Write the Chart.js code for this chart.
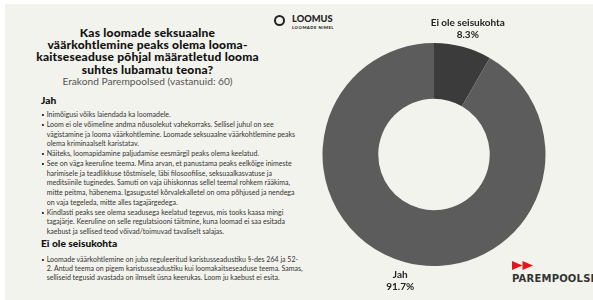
<!DOCTYPE html>
<html>
<head>
<meta charset="utf-8">
<script src="https://cdn.jsdelivr.net/npm/chart.js@4.4.1/dist/chart.umd.min.js"></script>
<style>
    body { margin: 0; width: 593px; height: 300px; background: #fff; overflow: hidden; font-family: Lato, sans-serif; }
    #panel { position: absolute; left: 5px; top: 4px; right: 0; bottom: 0; background: #f3f3ee; }
    #title { position: absolute; left: 0; top: 27px; width: 295px; text-align: center; font-weight: 900; font-size: 12px; letter-spacing: 0.2px; line-height: 12.2px; color: #111; white-space: nowrap; }
    #subtitle { position: absolute; left: 0; top: 75px; width: 295px; text-align: center; font-size: 10.2px; line-height: 12px; color: #555; }
    .head { position: absolute; left: 41px; font-weight: 900; font-size: 10.2px; line-height: 12px; color: #111; }
    .list { position: absolute; left: 41px; margin: 0; padding: 0; list-style: none; font-size: 7.4px; line-height: 9.75px; color: #333; white-space: nowrap; transform: scaleX(0.95); transform-origin: left top; }
    .list li { padding-left: 6px; position: relative; }
    .list li:before { content: ""; position: absolute; left: 0.5px; top: 4px; width: 2px; height: 2px; background: #333; }
    #chart { position: absolute; left: 284px; top: 0; }
    #loomus { position: absolute; left: 274px; top: 14px; }
    #loomus .ring { position: absolute; left: 0; top: 1px; width: 7px; height: 7px; border: 2px solid #222; border-radius: 50%; }
    #loomus .name { position: absolute; left: 18px; top: 0; font-weight: 900; font-size: 9.3px; line-height: 10px; color: #222; }
    #loomus .sub { position: absolute; left: 18px; top: 10.5px; font-weight: 900; font-size: 4.2px; line-height: 5px; color: #222; white-space: nowrap; letter-spacing: 0.5px; }
    #parem { position: absolute; left: 512px; top: 261px; }
    #parem .name { position: absolute; left: 0; top: 12px; font-family: "DejaVu Sans", sans-serif; font-weight: bold; font-size: 10px; letter-spacing: 0.2px; line-height: 12px; color: #333; white-space: nowrap; }
</style>
</head>
<body>
<div id="panel"></div>
<div id="title">Kas loomade seksuaalne<br>väärkohtlemine peaks olema looma-<br>kaitseseaduse põhjal määratletud looma<br>suhtes lubamatu teona?</div>
<div id="subtitle">Erakond Parempoolsed (vastanuid: 60)</div>
<div class="head" style="top: 94px;">Jah</div>
<ul class="list" style="top: 110px;">
    <li>Inimõigusi võiks laiendada ka loomadele.</li>
    <li>Loom ei ole võimeline andma nõusolekut vahekorraks. Sellisel juhul on see<br>vägistamine ja looma väärkohtlemine. Loomade seksuaalne väärkohtlemine peaks<br>olema kriminaalselt karistatav.</li>
    <li>Näiteks, loomapidamine paljudamise eesmärgil peaks olema keelatud.</li>
    <li>See on väga keeruline teema. Mina arvan, et panustama peaks eelkõige inimeste<br>harimisele ja teadlikkuse tõstmisele, läbi filosoofilise, seksuaalkasvatuse ja<br>meditsiinile tuginedes. Samuti on vaja ühiskonnas sellel teemal rohkem rääkima,<br>mitte peitma, häbenema. Igasugustel kõrvalekalletel on oma põhjused ja nendega<br>on vaja tegeleda, mitte alles tagajärgedega.</li>
    <li>Kindlasti peaks see olema seadusega keelatud tegevus, mis tooks kaasa mingi<br>tagajärje. Keeruline on selle regulatsiooni täitmine, kuna loomad ei saa esitada<br>kaebust ja sellised teod võivad/toimuvad tavaliselt salajas.</li>
</ul>
<div class="head" style="top: 237px;">Ei ole seisukohta</div>
<ul class="list" style="top: 254.5px; line-height: 9px;">
    <li>Loomade väärkohtlemine on juba reguleeritud karistusseadustiku §-des 264 ja 52-<br>2. Antud teema on pigem karistusseadustiku kui loomakaitseseaduse teema. Samas,<br>selliseid tegusid avastada on ilmselt üsna keerukas. Loom ju kaebust ei esita.</li>
</ul>
<div id="loomus"><div class="ring"></div><div class="name">LOOMUS</div><div class="sub">LOOMADE NIMEL</div></div>
<div id="parem">
    <svg width="22" height="9" style="position:absolute;left:0;top:0"><polygon points="0,0 10.5,4.5 0,9" fill="#e8141c"/><polygon points="10.5,0 21,4.5 10.5,9" fill="#e8141c"/></svg>
    <div class="name">PAREMPOOLSED</div>
</div>
<canvas id="chart" width="300" height="300"></canvas>
<script>
const answers = ["Ei ole seisukohta", "Jah"];
const counts = [5, 55];
const sliceColors = ["#3b3b3b", "#5c5c5c"];

const total = counts.reduce((a, b) => a + b, 0);

// labels outside the ring, name + percent
const outerLabels = {
    id: "outerLabels",
    afterDraw(chart) {
        const ctx = chart.ctx;
        const arcs = chart.getDatasetMeta(0).data;
        ctx.save();
        ctx.fillStyle = "#222";
        ctx.textAlign = "center";
        ctx.textBaseline = "middle";
        ctx.font = "bold 10px Lato";
        arcs.forEach((arc, i) => {
            const mid = (arc.startAngle + arc.endAngle) / 2;
            const r = arc.outerRadius * 1.17;
            const x = arc.x + Math.cos(mid) * r;
            const y = arc.y + Math.sin(mid) * r;
            const pct = (counts[i] / total * 100).toFixed(1) + "%";
            ctx.fillText(answers[i], x, y - 6);
            ctx.fillText(pct, x, y + 6);
        });
        ctx.restore();
    }
};

new Chart(document.getElementById("chart"), {
    type: "doughnut",
    data: {
        labels: answers,
        datasets: [{
            data: counts,
            backgroundColor: sliceColors,
            borderWidth: 0
        }]
    },
    options: {
        responsive: false,
        animation: false,
        cutout: "50%",
        layout: { padding: { top: 43, bottom: 34, left: 0, right: 0 } },
        plugins: {
            legend: { display: false },
            tooltip: { enabled: false }
        }
    },
    plugins: [outerLabels]
});
</script>
</body>
</html>
